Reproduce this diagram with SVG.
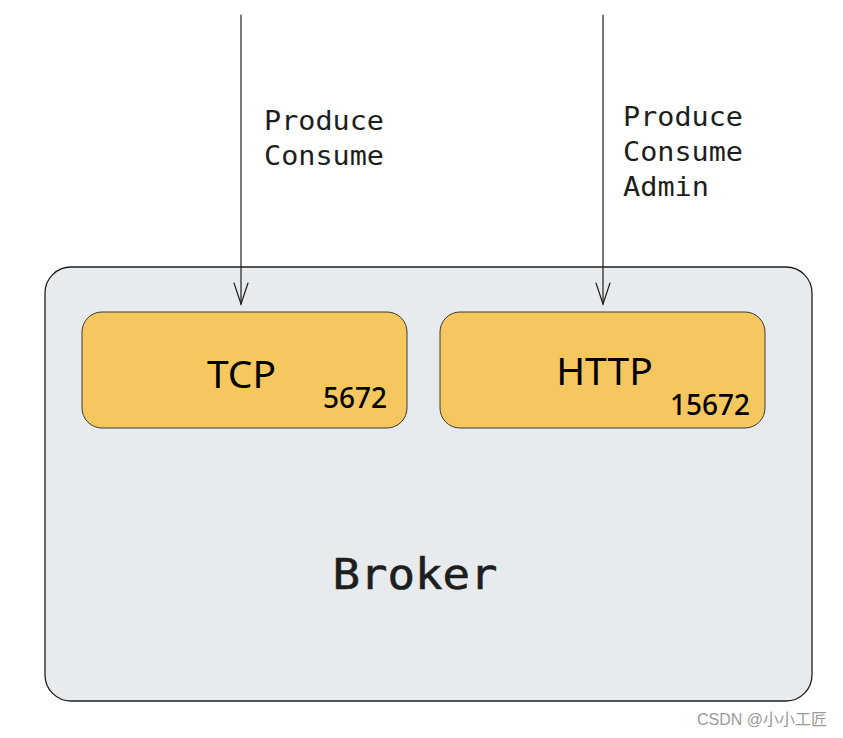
<svg xmlns="http://www.w3.org/2000/svg" width="843" height="738" viewBox="0 0 843 738">
<style>
.mono{font-family:"DejaVu Sans Mono","Liberation Mono",monospace;fill:#1e1e1e}
.sans{font-family:"Noto Sans","Liberation Sans",sans-serif;fill:#000}
.num{font-weight:500}
.box{fill:#f7c75f;stroke:#3a3a3a;stroke-width:1}
.conn{stroke:#1e1e1e;stroke-width:1.2;fill:none;stroke-linecap:round}
</style>
<rect width="843" height="738" fill="#fff"/>
<g id="broker">
<rect x="45" y="267" width="767" height="434" rx="26" fill="#e8ebee" stroke="#1e1e1e" stroke-width="1.3"/>
<text class="mono" x="415" y="589" font-size="42" text-anchor="middle" textLength="165" lengthAdjust="spacingAndGlyphs" stroke="#1e1e1e" stroke-width="0.6">Broker</text>
</g>
<g id="tcp">
<rect class="box" x="82" y="312" width="325" height="116" rx="20"/>
<text class="sans" x="241.5" y="388" font-size="39" text-anchor="middle">TCP</text>
<text class="sans num" x="387" y="408" font-size="28" text-anchor="end">5672</text>
</g>
<g id="http">
<rect class="box" x="440" y="312" width="325" height="116" rx="20"/>
<text class="sans" x="604.5" y="385" font-size="39" text-anchor="middle">HTTP</text>
<text class="sans num" x="750" y="415" font-size="28" text-anchor="end">15672</text>
</g>
<g id="connectors">
<path class="conn" d="M241 15 L241 304"/>
<path class="conn" d="M234 283 L241 304 L248 283"/>
<path class="conn" d="M603 15 L603 304"/>
<path class="conn" d="M596 283 L603 304 L610 283"/>
<text class="mono" x="264" y="130" font-size="26" textLength="120" lengthAdjust="spacingAndGlyphs">Produce</text>
<text class="mono" x="264" y="165" font-size="26" textLength="120" lengthAdjust="spacingAndGlyphs">Consume</text>
<text class="mono" x="623" y="126" font-size="26" textLength="120" lengthAdjust="spacingAndGlyphs">Produce</text>
<text class="mono" x="623" y="161" font-size="26" textLength="120" lengthAdjust="spacingAndGlyphs">Consume</text>
<text class="mono" x="623" y="196" font-size="26" textLength="86" lengthAdjust="spacingAndGlyphs">Admin</text>
</g>
<text x="827" y="725" font-size="16" fill="#9a9a9a" text-anchor="end" font-family="'Liberation Sans','Noto Sans CJK SC',sans-serif">CSDN @小小工匠</text>
</svg>
